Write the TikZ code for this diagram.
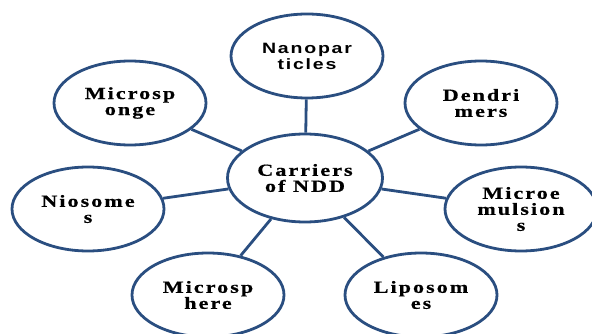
\documentclass[tikz,border=0pt]{standalone}
\usepackage{fontspec}
\usetikzlibrary{shapes.geometric}
\newfontfamily\serifwide[FakeStretch=1.3,LetterSpace=12,BoldFeatures={FakeBold=0.6}]{Liberation Serif}
\newfontfamily\sanswide[FakeStretch=1.3,LetterSpace=12]{Liberation Sans}
\definecolor{ringblue}{RGB}{42,78,128}
\tikzset{
  carrier/.style={ellipse,draw=ringblue,line width=2.8pt,fill=white,
    minimum width=152pt,minimum height=84pt,inner sep=0pt,align=center,
    font=\serifwide\bfseries\fontsize{17}{16}\selectfont},
  link/.style={draw=ringblue,line width=2.8pt}
}
\begin{document}
\begin{tikzpicture}[x=1pt,y=-1pt]
            \clip(0,0)rectangle(592,334);
            \node[carrier,minimum width=155pt,minimum height=88pt](1)at(305,178){Carriers\\of NDD};
            \node[carrier,font=\sanswide\bfseries\fontsize{15}{16}\selectfont](2)at(307,56){Nanopar\\ticles};
            \node[carrier](3)at(130,103){Microsp\\onge};
            \node[carrier](4)at(481,103){Dendri\\mers};
            \node[carrier](5)at(88,209){Niosome\\s};
            \node[carrier](6)at(521,209){Microe\\mulsion\\s};
            \node[carrier](7)at(208,295){Microsp\\here};
            \node[carrier](8)at(421,295){Liposom\\es};
            \draw[link](1)--(2);
            \draw[link](1)--(3);
            \draw[link](1)--(4);
            \draw[link](1)--(5);
            \draw[link](1)--(6);
            \draw[link](1)--(7);
            \draw[link](1)--(8);
        \end{tikzpicture}
\end{document}
